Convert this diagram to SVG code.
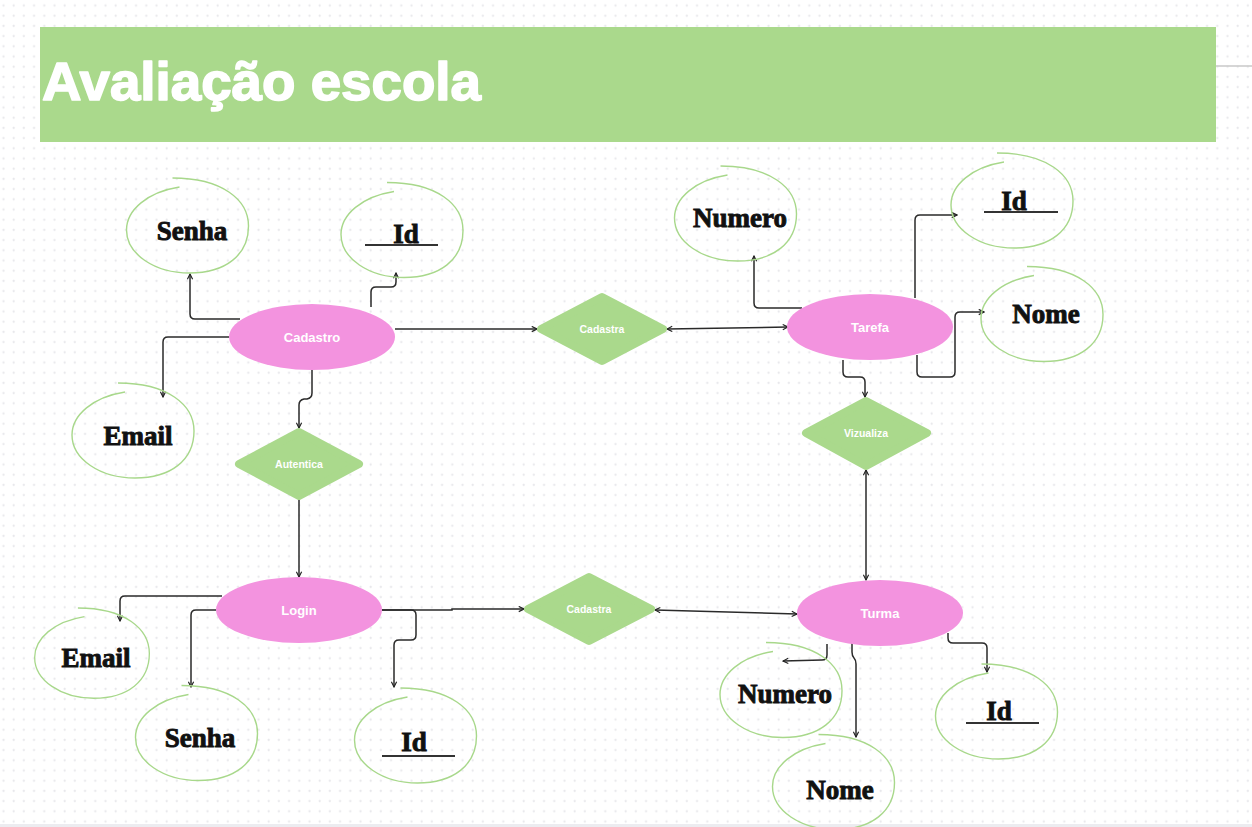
<svg xmlns="http://www.w3.org/2000/svg" width="1252" height="827" viewBox="0 0 1252 827">
<defs>
<pattern id="grid" x="0" y="0" width="10.2" height="10.2" patternUnits="userSpaceOnUse">
<path d="M2.3 5.5H4.7M3.5 4.3V6.7" stroke="#e4e4e8" stroke-width="0.9"/>
</pattern>
<marker id="arr" viewBox="0 0 8 8" refX="7" refY="4" markerWidth="7" markerHeight="7" markerUnits="userSpaceOnUse" orient="auto-start-reverse">
<path d="M1 1L7 4L1 7" fill="none" stroke="#222" stroke-width="1.3"/>
</marker>
<path id="loop" d="M -8,-41 C -40,-36 -61,-18 -61,2 C -61,26 -33,45 2,45 C 38,45 61,27 61,-2 C 61,-28 35,-50 -15,-50"/>
</defs>
<style>
.ent{fill:#f393df}
.rel{fill:#aad98c;stroke:#aad98c;stroke-width:8;stroke-linejoin:round}
.loop{fill:none;stroke:#a8d88b;stroke-width:1.4}
.el{font-family:"Liberation Sans",Arial,sans-serif;font-weight:bold;fill:#fff;text-anchor:middle}
.et{font-size:13px}
.rt{font-size:10.5px}
.at{font-family:"Liberation Serif","Times New Roman",serif;font-weight:bold;font-size:27px;fill:#111;stroke:#111;stroke-width:0.9;text-anchor:middle}
.ul{stroke:#333;stroke-width:1.8}
.con path{fill:none;stroke:#2a2a2a;stroke-width:1.5}
.one{marker-end:url(#arr)}
.two{marker-end:url(#arr);marker-start:url(#arr)}
</style>
<rect width="1252" height="827" fill="#fff"/>
<rect width="1252" height="827" fill="url(#grid)"/>
<rect x="0" y="824" width="1252" height="3" fill="#ececf0"/>
<line x1="1216" y1="66" x2="1252" y2="66" stroke="#c8c8c8" stroke-width="1.5"/>

<g id="title">
<rect x="40" y="27" width="1176" height="115" fill="#aad98c"/>
<text x="42" y="100" font-family="Liberation Sans,Arial,sans-serif" font-weight="bold" font-size="53" fill="#fff" stroke="#fff" stroke-width="1.6" stroke-linejoin="round" textLength="439" lengthAdjust="spacingAndGlyphs">Avaliação escola</text>
</g>

<g id="connectors" class="con">
<path class="one" d="M 240 319 L 195 319 Q 190 319 190 314 L 190 274"/>
<path class="one" d="M 371 307 L 371 292 Q 371 287 376 287 L 391 287 Q 396 287 396 282 L 396 273"/>
<path class="one" d="M 229 337 L 168 337 Q 163 337 163 342 L 163 397"/>
<path class="one" d="M 312 370 L 312 393 Q 312 398 307 399 L 304 399 Q 299 400 299 405 L 299 428"/>
<path class="one" d="M 395 329 L 537 329"/>
<path class="two" d="M 667 329 L 788 327"/>
<path class="one" d="M 802 308 L 759 308 Q 754 308 754 303 L 754 256"/>
<path class="one" d="M 915 298 L 915 220 Q 915 215 920 215 L 957 215"/>
<path class="one" d="M 917 355 L 917 372 Q 917 377 922 377 L 950 377 Q 955 377 955 372 L 955 317 Q 955 312 960 312 L 984 312"/>
<path class="one" d="M 843 360 L 843 372 Q 843 377 848 377 L 860 377 Q 865 377 865 382 L 865 397"/>
<path class="two" d="M 866 470 L 866 580"/>
<path class="one" d="M 299 500 L 299 577"/>
<path class="one" d="M 222 596 L 125 596 Q 120 596 120 601 L 120 621"/>
<path class="one" d="M 216 610 L 196 610 Q 191 610 191 615 L 191 687"/>
<path class="one" d="M 382 610 L 411 610 Q 416 610 416 615 L 416 635 Q 416 640 411 640 L 399 640 Q 394 640 394 645 L 394 687"/>
<path class="one" d="M 382 610 L 452 610 L 452 609 L 524 609"/>
<path class="two" d="M 655 610 L 797 614"/>
<path class="one" d="M 827 644 L 827 655 Q 827 660 822 660 L 783 661"/>
<path class="one" d="M 852 638 L 852 652 Q 852 656 854 658 Q 856 660 856 664 L 856 737"/>
<path class="one" d="M 948 633 L 948 638 Q 948 643 953 643 L 982 643 Q 987 643 987 648 L 987 672"/>
</g>

<g id="cadastro"><ellipse class="ent" cx="312" cy="337" rx="83" ry="33"/><text class="el et" x="312" y="342">Cadastro</text></g>
<g id="tarefa"><ellipse class="ent" cx="870" cy="327" rx="83" ry="33"/><text class="el et" x="870" y="332">Tarefa</text></g>
<g id="login"><ellipse class="ent" cx="299" cy="610" rx="83" ry="33"/><text class="el et" x="299" y="615">Login</text></g>
<g id="turma"><ellipse class="ent" cx="880" cy="613" rx="83" ry="33"/><text class="el et" x="880" y="618">Turma</text></g>

<g id="cadastra1"><polygon class="rel" points="541,329 602,297 663,329 602,361"/><text class="el rt" x="602" y="333">Cadastra</text></g>
<g id="autentica"><polygon class="rel" points="239,464 299,432 359,464 299,496"/><text class="el rt" x="299" y="468">Autentica</text></g>
<g id="vizualiza"><polygon class="rel" points="806,433 866,401 927,433 866,466"/><text class="el rt" x="866" y="437">Vizualiza</text></g>
<g id="cadastra2"><polygon class="rel" points="528,609 589,577 651,609 589,641"/><text class="el rt" x="589" y="613">Cadastra</text></g>

<g id="senha1"><use href="#loop" class="loop" transform="translate(187.5,228)"/><text class="at" x="192" y="240">Senha</text></g>
<g id="id1"><use href="#loop" class="loop" transform="translate(402,232.5)"/><text class="at" x="406" y="243">Id</text><line class="ul" x1="365" y1="245" x2="438" y2="245"/></g>
<g id="email1"><use href="#loop" class="loop" transform="translate(133,433)"/><text class="at" x="138" y="445">Email</text></g>
<g id="numero1"><use href="#loop" class="loop" transform="translate(735.5,216)"/><text class="at" x="740" y="227">Numero</text></g>
<g id="id2"><use href="#loop" class="loop" transform="translate(1012,203)"/><text class="at" x="1014" y="210">Id</text><line class="ul" x1="984" y1="212" x2="1058" y2="212"/></g>
<g id="nome1"><use href="#loop" class="loop" transform="translate(1042,316.5)"/><text class="at" x="1046" y="323">Nome</text></g>
<g id="email2"><use href="#loop" class="loop" transform="translate(92,655.5) scale(0.94,0.95)"/><text class="at" x="96" y="667">Email</text></g>
<g id="senha2"><use href="#loop" class="loop" transform="translate(196.5,735.5)"/><text class="at" x="200" y="747">Senha</text></g>
<g id="id3"><use href="#loop" class="loop" transform="translate(415.5,738)"/><text class="at" x="414" y="751">Id</text><line class="ul" x1="382" y1="756" x2="455" y2="756"/></g>
<g id="numero2"><use href="#loop" class="loop" transform="translate(781,692.5)"/><text class="at" x="785" y="703">Numero</text></g>
<g id="nome2"><use href="#loop" class="loop" transform="translate(833.5,784.5)"/><text class="at" x="840" y="799">Nome</text></g>
<g id="id4"><use href="#loop" class="loop" transform="translate(996.5,714)"/><text class="at" x="999" y="720">Id</text><line class="ul" x1="966" y1="723" x2="1039" y2="723"/></g>
</svg>
